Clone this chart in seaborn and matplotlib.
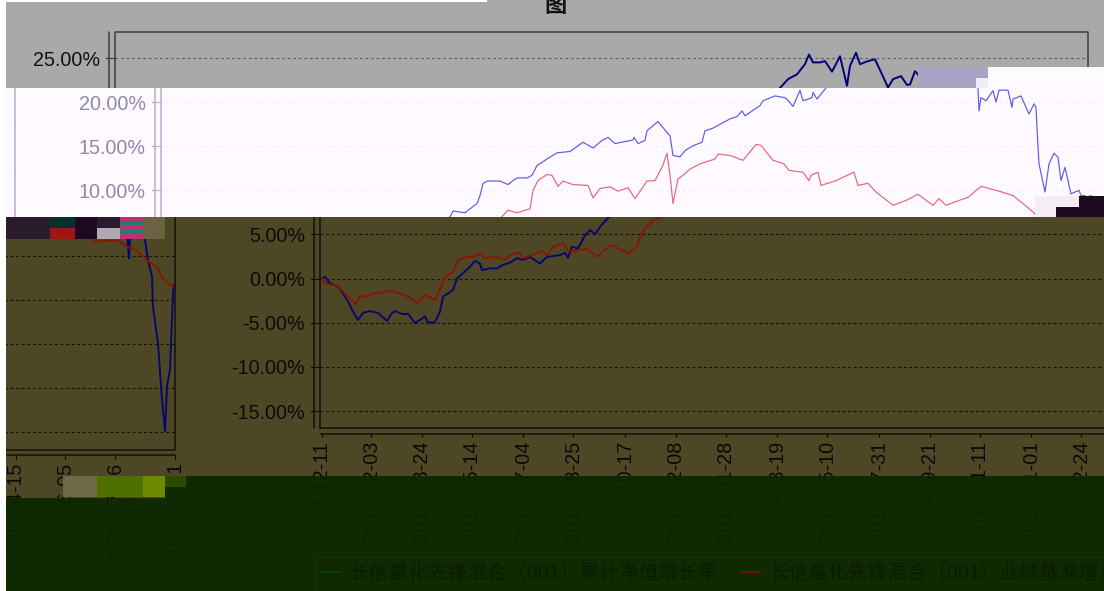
import matplotlib
matplotlib.use("Agg")
import matplotlib.pyplot as plt
from matplotlib.lines import Line2D
from matplotlib.patches import Rectangle
import pandas as pd
import seaborn as sns

sns.set_style("white")
plt.rcParams["font.family"] = ["Liberation Sans", "Noto Sans CJK SC", "DejaVu Sans"]
plt.rcParams["axes.unicode_minus"] = True

# ---------- data ----------
fund_day = [0, 3, 8, 16, 21, 26, 31, 36, 41, 48, 56, 65, 70, 73, 81, 86, 93, 98, 103, 106, 113, 118, 121, 126,
            131, 135, 141, 148, 153, 158, 160, 168, 175, 180, 188, 195, 201, 208, 218, 225, 238, 243, 246, 250,
            256, 263, 268, 273, 278, 287, 290, 302, 307, 314, 317, 320, 324, 337, 345, 350, 354, 364, 369, 374,
            384, 394, 407, 420, 430, 439, 445, 452, 470, 471, 475, 482, 484, 495, 504, 507, 510, 517, 522, 530,
            539, 542, 550, 567, 574, 579, 582, 597, 600, 612, 622, 625, 630, 637, 640, 649, 650, 654, 663, 671,
            680, 688, 692, 696, 703, 708, 715, 723, 730, 733, 739, 743, 751, 758, 765, 771, 776, 784, 790, 793,
            798, 801, 805, 810, 815, 816, 818, 823, 830, 833, 836, 845, 849, 850, 858, 866, 871, 873, 875, 876,
            882, 886, 891, 895, 898, 902, 908, 916, 918, 922, 925, 927, 932, 939, 941, 944, 948, 949, 954, 958,
            961, 963, 966, 967, 969, 970]
fund_pct = [0.0, 0.2, -0.55, -0.92, -1.7, -2.6, -3.75, -4.7, -3.9, -3.7, -3.9, -4.8, -3.9, -3.7, -4.05, -4.0,
            -5.05, -4.7, -4.3, -5.0, -4.95, -3.75, -2.05, -1.7, -1.3, 0.0, 0.6, 1.35, 2.0, 1.7, 0.95, 1.15, 1.15,
            1.5, 1.8, 2.3, 2.1, 2.45, 1.7, 2.45, 2.65, 2.9, 2.35, 3.6, 3.4, 4.9, 5.5, 5.0, 5.85, 7.0, 7.65, 7.45,
            7.9, 8.5, 9.4, 10.75, 11.05, 11.05, 10.65, 11.1, 11.4, 11.4, 11.7, 12.8, 13.55, 14.25, 14.4, 15.45,
            14.8, 15.65, 16.0, 15.3, 15.7, 16.0, 15.3, 15.65, 16.75, 17.8, 16.55, 16.2, 13.95, 13.8, 14.5, 15.05,
            15.45, 16.75, 17.05, 18.1, 18.35, 19.0, 18.45, 19.6, 20.15, 20.7, 20.5, 20.2, 19.5, 21.35, 20.15, 20.5,
            21.1, 20.35, 21.6, 22.6, 23.15, 24.3, 25.4, 24.5, 24.5, 24.65, 23.45, 25.2, 21.85, 24.1, 25.6, 24.3,
            24.65, 24.85, 23.15, 21.65, 22.6, 22.95, 21.95, 22.0, 23.5, 23.15, 22.2, 22.6, 21.6, 19.0, 20.5, 20.15,
            21.3, 20.0, 21.35, 21.35, 19.4, 20.35, 20.7, 18.65, 19.8, 19.4, 14.9, 13.0, 9.8, 13.0, 14.2, 13.75, 11.1,
            12.6, 9.6, 10.0, 9.4, 9.4, 4.7, 9.4, 9.2, 7.5, 6.8, 4.5, 2.65, -0.8, -4.9, -11.3, -14.9, -9.8, -7.9,
            -4.9, 0.7, 1.7]
bench_day = [0, 1, 8, 15, 21, 28, 34, 38, 46, 51, 61, 68, 78, 88, 95, 103, 113, 118, 123, 131, 136, 145, 151, 158,
             163, 173, 183, 188, 198, 201, 211, 220, 225, 231, 241, 246, 253, 265, 275, 288, 293, 306, 315, 318,
             323, 331, 338, 345, 354, 367, 370, 375, 384, 389, 395, 400, 410, 425, 430, 437, 447, 455, 465, 472,
             484, 492, 499, 504, 507, 510, 515, 520, 527, 537, 552, 555, 567, 580, 588, 593, 598, 610, 621, 626,
             640, 646, 648, 655, 658, 673, 691, 695, 705, 713, 730, 743, 755, 770, 776, 783, 796, 805, 818, 836,
             850, 860, 870, 873, 883, 888, 891, 913, 924, 933, 943, 953, 959, 969]
bench_pct = [0.0, -0.35, -0.7, -0.8, -1.5, -2.25, -2.9, -2.0, -2.05, -1.7, -1.55, -1.4, -1.7, -2.15, -2.8, -1.85,
             -2.45, -1.3, 0.2, 0.75, 2.1, 2.45, 2.45, 2.85, 2.3, 2.45, 2.1, 2.65, 2.95, 2.3, 2.7, 3.1, 2.6, 3.6,
             4.0, 3.2, 3.1, 3.4, 2.45, 3.75, 3.6, 2.85, 3.6, 4.7, 5.65, 6.6, 6.9, 7.75, 7.45, 7.9, 10.0, 11.1,
             11.8, 11.7, 10.45, 11.05, 10.65, 10.55, 9.15, 10.2, 10.4, 9.9, 10.3, 9.05, 11.05, 11.1, 12.6, 14.2,
             11.7, 8.5, 11.3, 11.7, 12.4, 13.0, 13.55, 14.1, 13.95, 13.4, 14.5, 15.2, 15.1, 13.4, 13.0, 12.25,
             12.05, 11.1, 11.7, 12.05, 10.55, 11.1, 12.05, 10.55, 10.8, 9.8, 8.3, 8.85, 9.55, 8.3, 9.05, 8.3,
             8.85, 9.2, 10.45, 9.9, 9.4, 8.5, 7.55, 7.15, 7.9, 7.0, 6.6, 6.8, 6.0, 5.6, 4.5, 3.7, 2.4, 1.5]
y_ticks = [25, 20, 15, 10, 5, 0, -5, -10, -15]
x_tick_days = [0, 49, 100, 150, 201, 251, 303, 354, 404, 455, 505, 557, 608, 658, 709, 759, 812, 861, 911, 971]
x_tick_labels = ["2017-12-11", "2018-02-03", "2018-03-24", "2018-05-14", "2018-07-04", "2018-08-25", "2018-10-17",
                 "2018-12-08", "2019-01-28", "2019-03-19", "2019-05-10", "2019-07-31", "2019-09-21", "2019-11-11",
                 "2020-01-01", "2020-02-24", "2020-04-15", "2020-06-05", "2020-07-26", "2020-09-21"]
legend_labels = ["长信量化先锋混合（001）累计净值增长率", "长信量化先锋混合（001）业绩基准增长率"]

fund = pd.DataFrame({"day": fund_day, "pct": fund_pct})
bench = pd.DataFrame({"day": bench_day, "pct": bench_pct})

# ---------- figure geometry (pixels) ----------
W, H = 1104, 591
fig = plt.figure(figsize=(W / 100, H / 100), dpi=100, facecolor="white")
PX_ZERO_Y, PX_PER_PCT = 278.5, 8.82
PX_DAY0 = 117
MARGIN = 6
FRAME_L, FRAME_R, FRAME_T, FRAME_B = -2, 971, 27.9, -17.0
OUT_L, OUT_B = -8, -17.6
WRAP_DY = 21.5
FS = 14.2


def slice_axes(x0, x1, y0, y1, shift, dy, bg, text, frame, grid, grid_ls, fund_c, bench_c, lw):
    """A rectangle of the picture showing the chart displaced by (shift, dy) pixels."""
    ax = fig.add_axes([x0 / W, 1 - y1 / H, (x1 - x0) / W, (y1 - y0) / H])
    xlim = (x0 - PX_DAY0 - shift, x1 - PX_DAY0 - shift)
    ylim = ((PX_ZERO_Y + dy - y1) / PX_PER_PCT, (PX_ZERO_Y + dy - y0) / PX_PER_PCT)
    ax.set_facecolor(bg)
    for sp in ax.spines.values():
        sp.set_visible(False)
    for v in y_ticks:
        ax.plot([FRAME_L, FRAME_R], [v, v], color=grid, lw=0.8, ls=grid_ls, zorder=1)
        ax.plot([OUT_L, FRAME_L], [v, v], color=frame, lw=0.8, zorder=1)
        ax.plot([OUT_L - 3, OUT_L], [v, v], color=frame, lw=1.0, zorder=1)
        if ylim[0] <= v <= ylim[1] and xlim[0] < OUT_L - 9 and xlim[1] > OUT_L - 9:
            ax.text(OUT_L - 9, v - 0.25, f"{v:.2f}%", color=text, fontsize=FS, ha="right", va="center",
                    clip_on=True, zorder=3)
    ax.plot([FRAME_L, FRAME_R, FRAME_R, FRAME_L, FRAME_L],
            [FRAME_B, FRAME_B, FRAME_T, FRAME_T, FRAME_B], color=frame, lw=1.1, zorder=2)
    ax.plot([OUT_L, OUT_L], [FRAME_B, FRAME_T], color=frame, lw=1.1, zorder=2)
    ax.plot([FRAME_L, FRAME_R], [OUT_B, OUT_B], color=frame, lw=1.1, zorder=2)
    for d, lab in zip(x_tick_days, x_tick_labels):
        ax.plot([d, d], [OUT_B, OUT_B - 0.4], color=frame, lw=1.0, zorder=2)
        if ylim[0] < OUT_B and xlim[0] - 10 < d < xlim[1] + 10:
            ax.text(d, OUT_B - 0.8, lab, color=text, fontsize=FS, rotation=90, ha="center", va="top",
                    clip_on=True, zorder=3)
    sns.lineplot(data=fund, x="day", y="pct", ax=ax, color=fund_c, linewidth=lw, legend=False,
                 estimator=None, sort=False, zorder=4)
    sns.lineplot(data=bench, x="day", y="pct", ax=ax, color=bench_c, linewidth=lw, legend=False,
                 estimator=None, sort=False, zorder=5)
    ax.set_xlabel("")
    ax.set_ylabel("")
    ax.set_xticks([])
    ax.set_yticks([])
    ax.set_xlim(*xlim)
    ax.set_ylim(*ylim)
    return ax


DASH = (0, (2.5, 2.5))
DOT = (0, (1, 4))
gray = ("#A9A9A9", "#111111", "#3C3C3C", "#5E5E5E", DASH, "#00007A", "#8A0000", 1.4)
pale = ("#FFFAFF", "#8F8AAA", "#B4AED0", "#E2DDF2", DOT, "#5B5BE6", "#E8647E", 0.85)
olive = ("#4E4726", "#0B0A04", "#14110A", "#14110A", DASH, "#07076E", "#8A1500", 1.4)
green = ("#0F2A00", "#0B2400", "#0A2000", "#0A2000", DASH, "#0A2000", "#0A2000", 1.0)

# displaced rows, then the part of each row that wrapped round to the left
slice_axes(MARGIN, W, 0, 88, 0, 0, *gray)
slice_axes(MARGIN, W, 88, 217, 46, 0, *pale)
slice_axes(MARGIN, W, 217, 476, 205, 0, *olive)
slice_axes(MARGIN, W, 476, 591, 205, 0, *green)
slice_axes(MARGIN, 30, 88, 217, 46 - 1119, WRAP_DY, *pale)
slice_axes(MARGIN, 186, 217, 497.5, 205 - 1118, WRAP_DY, *olive)
slice_axes(MARGIN, 186, 497.5, 591, 205 - 1118, WRAP_DY, *green)

handles = [Line2D([], [], color="#0B3A12", lw=1.4), Line2D([], [], color="#6B1000", lw=1.4)]
leg = fig.legend(handles, legend_labels, loc="lower left", bbox_to_anchor=(316 / W, 1 - 587 / H), ncol=2,
                 fontsize=14.2, frameon=False, labelcolor="#081C00", handlelength=1.05, handletextpad=0.45,
                 columnspacing=1.1, borderpad=0.2, borderaxespad=0, bbox_transform=fig.transFigure)
leg.set_zorder(30)

# ---------- overlay: title fragment and the damaged blocks ----------
ov = fig.add_axes([0, 0, 1, 1], zorder=20)
ov.set_xlim(0, W)
ov.set_ylim(H, 0)
ov.patch.set_visible(False)
ov.set_axis_off()
ov.text(556, 6, "图", fontsize=16, fontweight="bold", color="#111111", ha="center", va="center",
        family=["Noto Sans CJK SC", "DejaVu Sans"])
ov.add_patch(Rectangle((315, 557), 800, 60, facecolor="none", edgecolor="#163300", lw=0.8))
blocks = [
    (6, 0, 487, 2, "#FFFFFF"),
    (918, 67, 988, 88, "#A8A2C4"), (976, 78, 988, 88, "#F2ECF6"), (988, 67, 1104, 88, "#FFFAFF"),
    (1035, 196, 1079, 217, "#F6ECF6"), (1056, 207, 1079, 217, "#1E0A1E"), (1079, 196, 1104, 217, "#1E0A1E"),
    (6, 217, 50, 239, "#2A1B2E"), (50, 217, 75, 228, "#08302C"), (50, 228, 75, 239, "#A01414"),
    (75, 217, 97, 239, "#1C0A22"), (97, 217, 120, 228, "#2A1B2E"), (97, 228, 120, 239, "#B2A6B4"),
    (120, 217, 143, 221, "#C03070"), (120, 221, 143, 225, "#1F7F6F"), (120, 225, 143, 229, "#C03070"),
    (120, 229, 143, 233, "#1F7F6F"), (120, 233, 143, 239, "#C03070"), (143, 217, 165, 239, "#6A6240"),
    (63, 476, 97, 497, "#6E6A45"), (97, 476, 143, 497, "#4E7000"),
    (143, 476, 165, 497, "#6E8A00"), (165, 476, 186, 487, "#2E4A00"), (165, 487, 186, 497.5, "#0F2A00"),
]
for x0, y0, x1, y1, c in blocks:
    ov.add_patch(Rectangle((x0, y0), x1 - x0, y1 - y0, facecolor=c, edgecolor="none"))

fig.savefig("out.png", dpi=100)
